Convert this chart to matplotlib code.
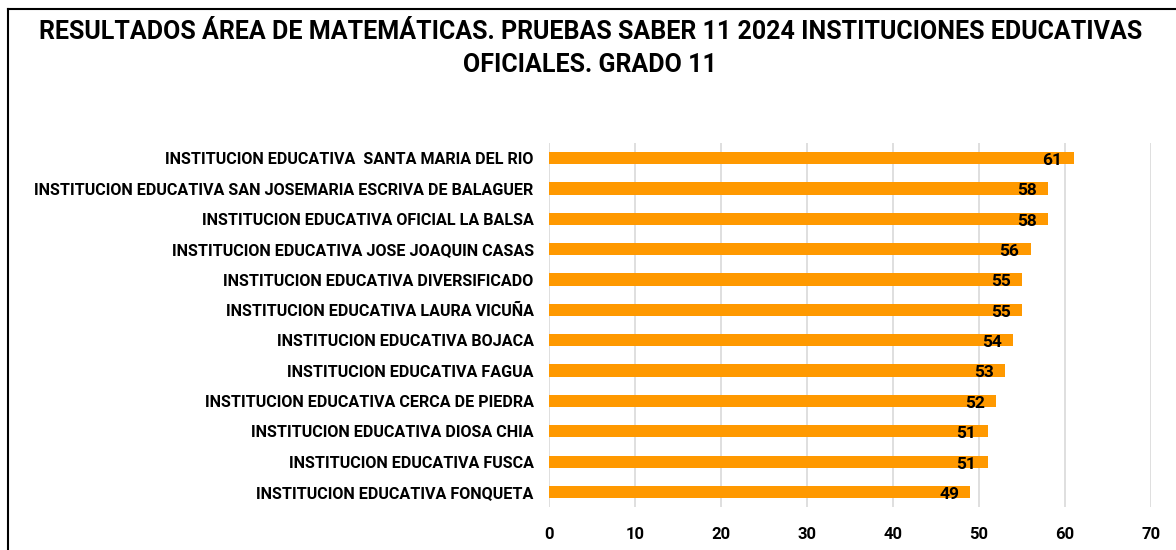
import matplotlib
matplotlib.use("Agg")
import matplotlib.pyplot as plt
from matplotlib.lines import Line2D

institutions = [
    "INSTITUCION EDUCATIVA  SANTA MARIA DEL RIO",
    "INSTITUCION EDUCATIVA SAN JOSEMARIA ESCRIVA DE BALAGUER",
    "INSTITUCION EDUCATIVA OFICIAL LA BALSA",
    "INSTITUCION EDUCATIVA JOSE JOAQUIN CASAS",
    "INSTITUCION EDUCATIVA DIVERSIFICADO",
    "INSTITUCION EDUCATIVA LAURA VICUÑA",
    "INSTITUCION EDUCATIVA BOJACA",
    "INSTITUCION EDUCATIVA FAGUA",
    "INSTITUCION EDUCATIVA CERCA DE PIEDRA",
    "INSTITUCION EDUCATIVA DIOSA CHIA",
    "INSTITUCION EDUCATIVA FUSCA",
    "INSTITUCION EDUCATIVA FONQUETA",
]
scores = [61, 58, 58, 56, 55, 55, 54, 53, 52, 51, 51, 49]
xticks = [0, 10, 20, 30, 40, 50, 60, 70]
title = "RESULTADOS ÁREA DE MATEMÁTICAS. PRUEBAS SABER 11 2024 INSTITUCIONES EDUCATIVAS\nOFICIALES. GRADO 11"

plt.rcParams['font.family'] = ['Roboto', 'DejaVu Sans']

fig = plt.figure(figsize=(11.76, 5.5), dpi=100)
ax = fig.add_axes([0.4668, 0.078, 0.512, 0.662])

ypos = list(range(len(institutions)))
ax.barh(ypos, scores, height=0.4, color="#FF9900", zorder=3)
ax.set_ylim(len(institutions) - 0.5, -0.5)
ax.set_xlim(0, 70)
ax.set_xticks(xticks)
ax.set_xticklabels([str(t) for t in xticks], fontsize=12, fontweight='bold')
ax.set_yticks(ypos)
ax.set_yticklabels(institutions, fontsize=11.6, fontweight='bold')
ax.tick_params(axis='both', length=0)
ax.tick_params(axis='x', pad=14)
ax.tick_params(axis='y', pad=11)
ax.grid(axis='x', color='#D9D9D9', linewidth=1.2, zorder=0)
for s in ax.spines.values():
    s.set_visible(False)

for y, v in zip(ypos, scores):
    ax.text(v - 1.3, y + 0.08, str(v), ha='right', va='center', fontsize=12.5,
            fontweight='bold', color='black', zorder=4)

fig.text(0.502, 0.912, title, ha='center', va='center', fontsize=18,
         fontweight='bold', linespacing=1.45)

fig.add_artist(Line2D([8/1176, 8/1176], [0, 1 - 9/550], color='black', lw=1.5,
                      transform=fig.transFigure))
fig.add_artist(Line2D([8/1176, 1], [1 - 9/550, 1 - 9/550], color='black', lw=1.5,
                      transform=fig.transFigure))

fig.savefig("out.png", dpi=100)
